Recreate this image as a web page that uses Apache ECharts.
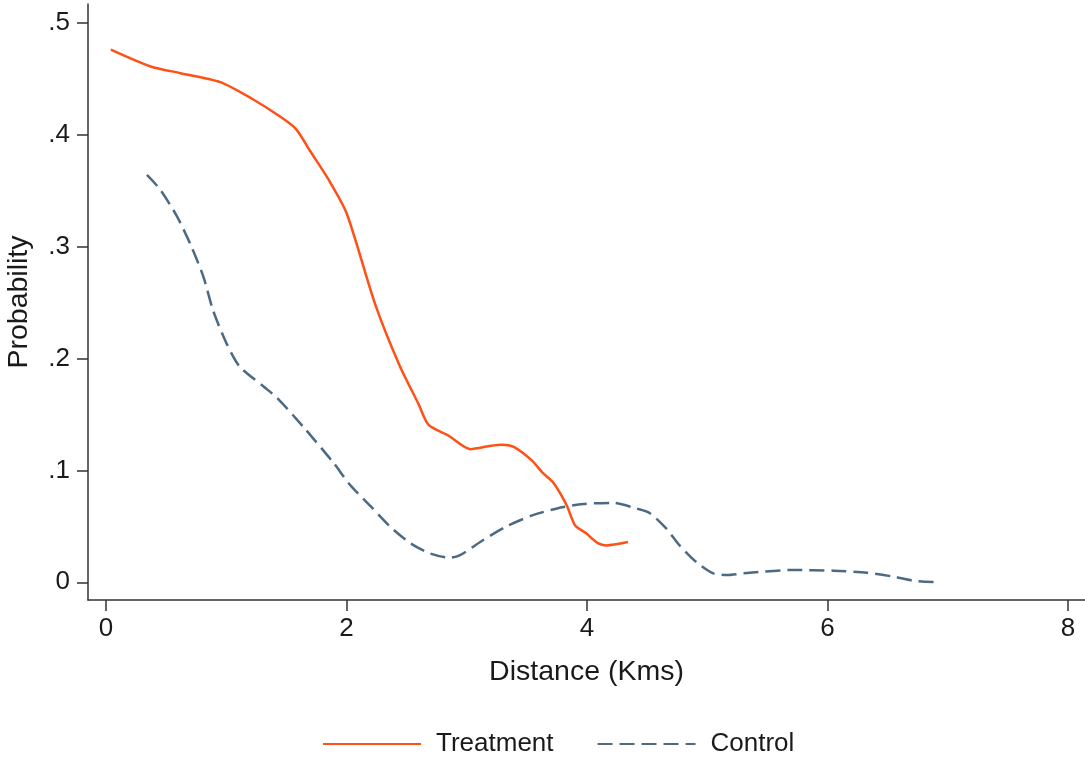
<!DOCTYPE html>
<html>
<head>
<meta charset="utf-8">
<title>Probability by distance</title>
<script src="https://cdn.jsdelivr.net/npm/echarts@6/dist/echarts.min.js"></script>
<style>
  html, body { margin: 0; padding: 0; background: #fff; }
  #chart { width: 1085px; height: 757px; }
</style>
</head>
<body>
<div id="chart"></div>
<script>
// Smoothed probability curves against distance (km)
const treatmentX = [0.04, 0.37, 0.62, 0.95, 1.2, 1.45, 1.58, 1.7, 1.85, 2.0, 2.24, 2.44, 2.6, 2.68, 2.85, 3.03, 3.2, 3.29, 3.39, 3.54, 3.63, 3.72, 3.83, 3.9, 3.99, 4.09, 4.16, 4.34];
const treatmentY = [0.476, 0.461, 0.455, 0.447, 0.433, 0.416, 0.405, 0.385, 0.360, 0.330, 0.248, 0.194, 0.159, 0.141, 0.131, 0.119, 0.122, 0.123, 0.121, 0.109, 0.098, 0.089, 0.069, 0.051, 0.044, 0.035, 0.033, 0.036];

const controlX = [0.34, 0.45, 0.59, 0.71, 0.81, 0.89, 1.0, 1.11, 1.31, 1.42, 1.64, 1.89, 2.03, 2.2, 2.36, 2.53, 2.69, 2.86, 2.94, 3.14, 3.33, 3.55, 3.75, 3.97, 4.22, 4.41, 4.52, 4.66, 4.77, 4.91, 5.05, 5.16, 5.35, 5.71, 6.05, 6.33, 6.55, 6.71, 6.94];
const controlY = [0.364, 0.351, 0.327, 0.300, 0.273, 0.243, 0.214, 0.193, 0.175, 0.165, 0.139, 0.107, 0.087, 0.068, 0.050, 0.035, 0.026, 0.022, 0.024, 0.038, 0.050, 0.060, 0.066, 0.070, 0.071, 0.066, 0.062, 0.048, 0.033, 0.018, 0.008, 0.0065, 0.0086, 0.011, 0.0104, 0.0086, 0.005, 0.0015, 0.0];

const xTicks = [0, 2, 4, 6, 8];
const yTicks = [0, 0.1, 0.2, 0.3, 0.4, 0.5];

const zip = (xs, ys) => xs.map((x, i) => [x, ys[i]]);

const FONT = 'Liberation Sans, Arial, sans-serif';
const INK = '#1a1a1a';

const chart = echarts.init(document.getElementById('chart'), null, { renderer: 'canvas' });

chart.setOption({
  animation: false,
  backgroundColor: '#ffffff',
  textStyle: { fontFamily: FONT, color: INK },
  grid: { left: 88, right: 0, top: 4, bottom: 157, containLabel: false, outerBoundsMode: 'none' },
  xAxis: {
    type: 'value',
    min: -0.15,
    max: 8.141,
    name: 'Distance (Kms)',
    nameLocation: 'middle',
    nameGap: 58,
    nameTextStyle: { fontSize: 28.5, color: INK, fontFamily: FONT },
    axisLine: { show: true, onZero: false, lineStyle: { color: '#333', width: 1.5 } },
    axisTick: { show: true, length: 11, customValues: xTicks, lineStyle: { color: '#333', width: 1.5 } },
    axisLabel: { customValues: xTicks, fontSize: 26, color: INK, margin: 16, fontFamily: FONT },
    splitLine: { show: false }
  },
  yAxis: {
    type: 'value',
    min: -0.0158,
    max: 0.5168,
    name: 'Probability',
    nameLocation: 'middle',
    nameGap: 54,
    nameTextStyle: { fontSize: 28.5, color: INK, fontFamily: FONT },
    axisLine: { show: true, onZero: false, lineStyle: { color: '#333', width: 1.5 } },
    axisTick: { show: true, length: 11, customValues: yTicks, lineStyle: { color: '#333', width: 1.5 } },
    axisLabel: {
      customValues: yTicks,
      fontSize: 26,
      color: INK,
      margin: 18,
      fontFamily: FONT,
      formatter: v => (v === 0 ? '0' : String(+v.toFixed(2)).replace(/^0\./, '.'))
    },
    splitLine: { show: false }
  },
  legend: {
    left: 322,
    top: 731,
    padding: 0,
    itemWidth: 98,
    itemHeight: 14,
    itemGap: 43,
    itemStyle: { opacity: 0, borderWidth: 0 },
    textStyle: { fontSize: 26, color: INK, fontFamily: FONT, padding: [0, 0, 0, 10] },
    data: ['Treatment', 'Control']
  },
  series: [
    {
      name: 'Treatment',
      type: 'line',
      data: zip(treatmentX, treatmentY),
      smooth: 0.25,
      symbol: 'none',
      lineStyle: { color: '#ff5016', width: 2.5 },
      itemStyle: { color: '#ff5016' }
    },
    {
      name: 'Control',
      type: 'line',
      data: zip(controlX, controlY),
      smooth: 0.25,
      symbol: 'none',
      lineStyle: { color: '#4b6a84', width: 2.5, type: [15, 7] },
      itemStyle: { color: '#4b6a84' }
    }
  ]
});
</script>
</body>
</html>
